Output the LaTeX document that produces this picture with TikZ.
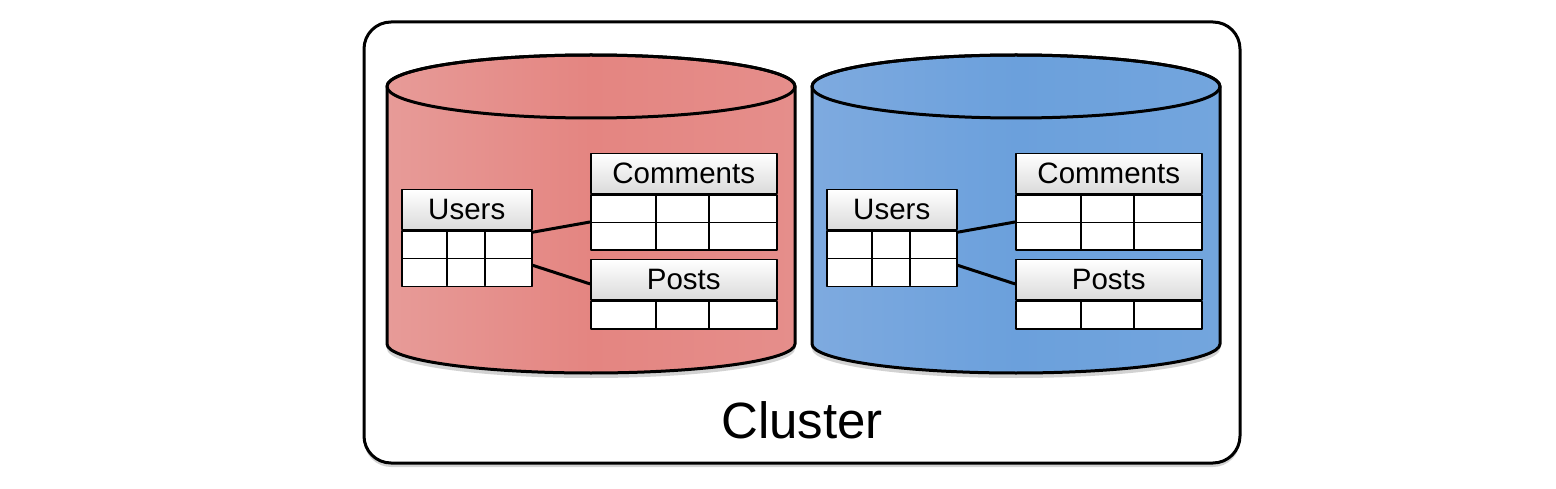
\documentclass[tikz,border=0pt]{standalone}
\usepackage{fontspec}
\setmainfont{Liberation Sans}
\usetikzlibrary{calc, shadows}
\definecolor{shardredleft}{HTML}{E79B98}
\definecolor{shardredmid}{HTML}{E48581}
\definecolor{shardredright}{HTML}{E58E8B}
\definecolor{shardblueleft}{HTML}{7EAADF}
\definecolor{shardbluemid}{HTML}{6BA0DC}
\definecolor{shardblueright}{HTML}{73A5DD}
\definecolor{headgray}{HTML}{DADADA}

\newcommand{\dbfont}{\fontsize{29.5}{29.5}\selectfont}
\newcommand{\clusterfont}{\fontsize{51}{51}\selectfont}

\tikzset{
  tablehead/.style={draw, line width=1.5pt, top color=white, bottom color=headgray, font=\dbfont, inner sep=0pt, anchor=north west},
  tablerow/.style={draw, line width=1.5pt, fill=white, inner sep=0pt, anchor=north west},
  tableline/.style={line width=1.5pt},
  dbline/.style={line width=3pt},
  link/.style={line width=3pt},
  clusterbox/.style={line width=3pt, rounded corners=27pt, fill=white, drop shadow={shadow xshift=0pt, shadow yshift=-4pt, opacity=0.35}}
}

% table: name, top left, width, title, rows, first divider, second divider
\newcommand{\dbtable}[7]{%
  \node[tablehead, minimum width=#3pt, minimum height=40pt] (#1) at (#2) {#4};
  \foreach \r in {1,...,#5}{
    \node[tablerow, minimum width=#3pt, minimum height=27.5pt] (#1-\r) at ($(#1.south west)+(0,{(\r-1)*27.5})$) {};
  }
  \draw[tableline] ($(#1.south west)+(#6,0)$) -- ++(0,{#5*27.5});
  \draw[tableline] ($(#1.south west)+(#7,0)$) -- ++(0,{#5*27.5});
}

% one database: prefix, left, middle and right colour
\newcommand{\shard}[4]{%
  \draw[dbline, left color=#2, right color=#4, middle color=#3, drop shadow={shadow xshift=0pt, shadow yshift=-5pt, opacity=0.35}]
    (387,86.5) -- (387,344) arc[start angle=180, end angle=0, x radius=204, y radius=29]
    -- (795,86.5) arc[start angle=0, end angle=-180, x radius=204, y radius=31.5] -- cycle;
  \draw[dbline] (591,86.5) ellipse [x radius=204, y radius=31.5];
  % tables
  \dbtable{#1users}{401,189}{130}{Users}{2}{46}{84}
  \dbtable{#1comments}{590,153}{186}{Comments}{2}{66}{119}
  \dbtable{#1posts}{590,259}{186}{Posts}{1}{66}{119}
  % links
  \draw[link] ($(#1users-1.north east)!0.06!(#1users-1.south east)$) -- (#1comments-2.north west);
  \draw[link] ($(#1users-2.north east)!0.25!(#1users-2.south east)$) -- ($(#1posts.north west)!0.6!(#1posts.south west)$);
}

\begin{document}
\begin{tikzpicture}[x=1pt, y=-1pt, line cap=round, line join=round]
  \useasboundingbox (0,0) rectangle (1556,489);

  % Cluster
  \draw[clusterbox] (364,22) rectangle (1240,463);
  \node[font=\clusterfont] (cluster) at (802,420) {Cluster};

  % Shards
  \shard{r}{shardredleft}{shardredmid}{shardredright}
  \begin{scope}[xshift=425pt]
    \shard{b}{shardblueleft}{shardbluemid}{shardblueright}
  \end{scope}
\end{tikzpicture}
\end{document}
